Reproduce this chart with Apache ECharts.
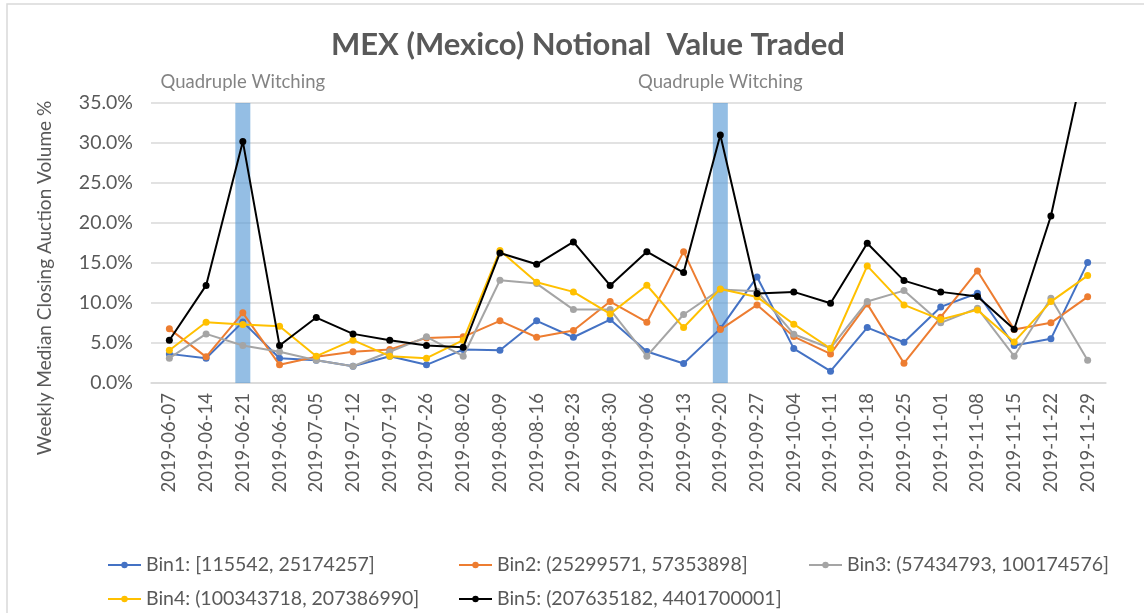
<!DOCTYPE html>
<html>
<head>
<meta charset="utf-8">
<script src="https://cdn.jsdelivr.net/npm/echarts@6/dist/echarts.min.js"></script>
<style>
  html, body { margin: 0; padding: 0; background: #fff; }
  #main { width: 1144px; height: 613px; }
</style>
</head>
<body>
<div id="main"></div>
<script>
// weekly dates (x axis)
var dates = ['2019-06-07', '2019-06-14', '2019-06-21', '2019-06-28', '2019-07-05', '2019-07-12',
  '2019-07-19', '2019-07-26', '2019-08-02', '2019-08-09', '2019-08-16', '2019-08-23', '2019-08-30',
  '2019-09-06', '2019-09-13', '2019-09-20', '2019-09-27', '2019-10-04', '2019-10-11', '2019-10-18',
  '2019-10-25', '2019-11-01', '2019-11-08', '2019-11-15', '2019-11-22', '2019-11-29'];

// weekly median closing auction volume, in %
var bin1 = [3.64, 3.1, 7.64, 3.1, 2.85, 2.1, 3.35, 2.27, 4.18, 4.1, 7.77, 5.72, 7.93,
  3.93, 2.43, 6.8, 13.26, 4.3, 1.48, 6.93, 5.1, 9.51, 11.22, 4.68, 5.52, 15.05];
var bin2 = [6.77, 3.27, 8.77, 2.27, 3.27, 3.9, 4.18, 5.64, 5.77, 7.77, 5.72, 6.56, 10.18,
  7.6, 16.42, 6.68, 9.76, 5.8, 3.64, 9.89, 2.48, 8.22, 14.01, 6.7, 7.52, 10.77];
var bin3 = [3.1, 6.14, 4.68, 3.9, 2.85, 2.1, 3.9, 5.77, 3.35, 12.84, 12.43, 9.18, 9.18,
  3.35, 8.56, 11.7, 11.47, 6.1, 4.35, 10.18, 11.55, 7.52, 9.35, 3.35, 10.6, 2.85];
var bin4 = [4.1, 7.6, 7.3, 7.1, 3.35, 5.35, 3.35, 3.1, 5.35, 16.55, 12.6, 11.39, 8.64,
  12.22, 6.93, 11.76, 10.76, 7.35, 4.31, 14.64, 9.76, 7.93, 9.14, 5.14, 10.18, 13.43];
var bin5 = [5.35, 12.2, 30.2, 4.68, 8.18, 6.14, 5.35, 4.68, 4.47, 16.26, 14.84, 17.64, 12.2,
  16.42, 13.8, 31.0, 11.18, 11.39, 9.97, 17.47, 12.8, 11.39, 10.8, 6.72, 20.88, 41.9];

// quadruple witching weeks (full height bars)
var witchingBars = [null, null, 35, null, null, null, null, null, null, null, null, null, null,
  null, null, 35, null, null, null, null, null, null, null, null, null, null];

var binNames = ['Bin1: [115542, 25174257]', 'Bin2: (25299571, 57353898]', 'Bin3: (57434793, 100174576]',
  'Bin4: (100343718, 207386990]', 'Bin5: (207635182, 4401700001]'];
var binData = [bin1, bin2, bin3, bin4, bin5];
var colors = ['#4472C4', '#ED7D31', '#A5A5A5', '#FFC000', '#000000'];

var font = 'Lato, "Liberation Sans", sans-serif';
var textColor = '#595959';

var series = [{
  name: 'witching',
  type: 'bar',
  data: witchingBars,
  barWidth: 15,
  itemStyle: {color: '#5B9BD5', opacity: 0.65},
  label: {
    show: true,
    position: 'top',
    distance: 11,
    formatter: 'Quadruple Witching',
    color: '#404040',
    fontFamily: font,
    fontSize: 18.5
  },
  silent: true,
  z: 1
}];
for (var i = 0; i < binData.length; i++) {
  series.push({
    name: binNames[i],
    type: 'line',
    data: binData[i],
    color: colors[i],
    symbol: 'circle',
    symbolSize: 7,
    lineStyle: {width: 2},
    clip: true,
    z: 3 + i
  });
}

// one legend per item so columns line up like the original
var legendPos = [[107, 555], [458, 555], [808, 555], [107, 589], [458, 589]];
var legends = binNames.map(function (n, k) {
  return {
    data: [n],
    left: legendPos[k][0],
    top: legendPos[k][1],
    padding: 0,
    itemWidth: 33,
    itemHeight: 8,
    textStyle: {color: textColor, fontFamily: font, fontSize: 19.5}
  };
});

var myChart = echarts.init(document.getElementById('main'));
myChart.setOption({
  animation: false,
  backgroundColor: '#fff',
  title: {
    text: 'MEX (Mexico) Notional  Value Traded',
    left: 326,
    top: 24,
    textStyle: {color: textColor, fontFamily: font, fontSize: 31, fontWeight: 'bold'}
  },
  legend: legends,
  grid: {left: 151, right: 38, top: 103, bottom: 230},
  xAxis: {
    type: 'category',
    data: dates,
    axisLine: {lineStyle: {color: '#d9d9d9', width: 1.5}},
    axisTick: {show: false},
    axisLabel: {rotate: 90, margin: 10, color: textColor, fontFamily: font, fontSize: 18.5}
  },
  yAxis: {
    type: 'value',
    min: 0,
    max: 35,
    interval: 5,
    axisLine: {show: false},
    axisTick: {show: false},
    splitLine: {lineStyle: {color: '#d9d9d9', width: 1.5}},
    axisLabel: {
      margin: 18,
      color: textColor,
      fontFamily: font,
      fontSize: 19.5,
      formatter: function (v) { return v.toFixed(1) + '%'; }
    }
  },
  graphic: [{
    type: 'rect',
    shape: {x: 7, y: 4, width: 1200, height: 700},
    style: {fill: null, stroke: '#d9d9d9', lineWidth: 1.5},
    silent: true
  }, {
    type: 'text',
    x: 45,
    y: 278,
    rotation: Math.PI / 2,
    style: {
      text: 'Weekly Median Closing Auction Volume %',
      fill: textColor,
      font: '19px ' + font,
      align: 'center',
      verticalAlign: 'middle'
    }
  }],
  series: series
});
</script>
</body>
</html>
